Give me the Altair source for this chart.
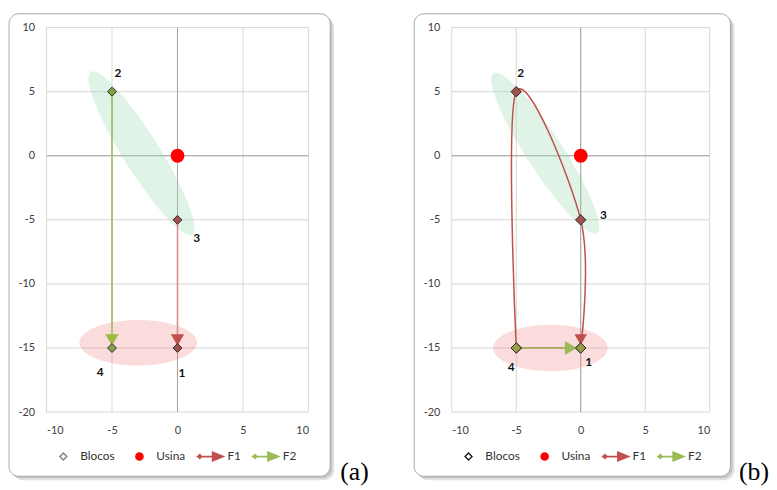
import altair as alt
import pandas as pd

# ---------------- data ----------------
x_ticks = [-10, -5, 0, 5, 10]
y_ticks = [-20, -15, -10, -5, 0, 5, 10]

bloco_ids = ["1", "2", "3", "4"]
bloco_x = [0, -5, 0, -5]
bloco_y = [-15, 5, -5, -15]

usina_x = [0]
usina_y = [0]

route_f1_a = ["3", "1"]
route_f2_a = ["2", "4"]
route_f1_b = ["4", "2", "3", "1"]
route_f2_b = ["4", "1"]

zone_green_x = [-2.75]
zone_green_y = [0.2]
zone_red_a_x = [-3.0]
zone_red_a_y = [-14.6]
zone_red_b_x = [-2.35]
zone_red_b_y = [-15.0]

legend_series = ["Blocos", "Usina", "F1", "F2"]

# ---------------- helpers ----------------
FONT = "Lato"
pos = {i: (x, y) for i, x, y in zip(bloco_ids, bloco_x, bloco_y)}


def route_df(route):
    return pd.DataFrame({
        "i": list(range(len(route))),
        "id": route,
        "x": [pos[r][0] for r in route],
        "y": [pos[r][1] for r in route],
    })


def ellipse_path(rx, ry):
    k = 0.5523
    f = lambda v: f"{v:.4f}"
    return (f"M{f(rx)},0 C{f(rx)},{f(ry*k)} {f(rx*k)},{f(ry)} 0,{f(ry)} "
            f"C{f(-rx*k)},{f(ry)} {f(-rx)},{f(ry*k)} {f(-rx)},0 "
            f"C{f(-rx)},{f(-ry*k)} {f(-rx*k)},{f(-ry)} 0,{f(-ry)} "
            f"C{f(rx*k)},{f(-ry)} {f(rx)},{f(-ry*k)} {f(rx)},0 Z")


HOLLOW_DIAMOND = "M0,-0.3L0.3,0L0,0.3L-0.3,0Z M0,-0.17L-0.17,0L0,0.17L0.17,0Z"
LEG_CIRCLE = ellipse_path(0.29, 0.29)
LEG_ARROW = ("M-0.95,-0.06L0.15,-0.06L0.15,0.06L-0.95,0.06Z "
             "M-0.73,-0.2L-0.53,0L-0.73,0.2L-0.93,0Z "
             "M0.08,-0.37L1,0L0.08,0.37Z")

RED = "#c0504d"
GREEN = "#9bbb59"


def make_panel(cfg):
    W, H = cfg["width"], 389
    R = cfg["frame_right"]
    xs = alt.Scale(domain=[-10, 10], nice=False, zero=False)
    ys = alt.Scale(domain=[-20, 10], nice=False, zero=False)
    xaxis = alt.Axis(values=x_ticks, grid=False, domain=False, ticks=False, zindex=1,
                     labelPadding=13, labelFont=FONT, labelFontSize=11,
                     labelColor="#404040", title=None, labelExpr="datum.value + ''")
    yaxis = alt.Axis(values=y_ticks, grid=False, domain=False, ticks=False, zindex=1,
                     labelPadding=12, labelFont=FONT, labelFontSize=11,
                     labelColor="#404040", title=None, labelExpr="datum.value + ''")

    def X(f):
        return alt.X(f, type="quantitative", scale=xs, axis=xaxis)

    def Y(f):
        return alt.Y(f, type="quantitative", scale=ys, axis=yaxis)

    one = pd.DataFrame({"k": [0]})
    layers = []

    # frame + shadow
    layers.append(alt.Chart(one).mark_rect(cornerRadius=10, fill="#e2e2e2").encode(
        x=alt.value(-34), x2=alt.value(R + 4), y=alt.value(-10), y2=alt.value(458)))
    layers.append(alt.Chart(one).mark_rect(cornerRadius=10, fill="#c4c4c4").encode(
        x=alt.value(-36), x2=alt.value(R + 2), y=alt.value(-12), y2=alt.value(456)))
    layers.append(alt.Chart(one).mark_rect(cornerRadius=10, fill="white", stroke="#a8a8a8",
                                           strokeWidth=1).encode(
        x=alt.value(-38), x2=alt.value(R), y=alt.value(-14), y2=alt.value(454)))

    # grid
    layers.append(alt.Chart(pd.DataFrame({"v": x_ticks})).mark_rule(
        color="#d9dbc9", strokeWidth=1).encode(
        x=X("v"), y=alt.datum(-20), y2=alt.datum(10)))
    layers.append(alt.Chart(pd.DataFrame({"v": y_ticks})).mark_rule(
        color="#d6d6d6", strokeWidth=1).encode(
        y=Y("v"), x=alt.datum(-10), x2=alt.datum(10)))
    # zero axes
    layers.append(alt.Chart(one).mark_rule(color="#a3a3a3", strokeWidth=1).encode(
        x=alt.datum(0), y=alt.datum(-20), y2=alt.datum(10)))
    layers.append(alt.Chart(one).mark_rule(color="#a3a3a3", strokeWidth=1).encode(
        y=alt.datum(0), x=alt.datum(-10), x2=alt.datum(10)))

    # zones (ellipses)
    g = cfg["green"]
    layers.append(alt.Chart(pd.DataFrame({"x": zone_green_x, "y": zone_green_y})).mark_point(
        shape=ellipse_path(1, g["ratio"]), size=g["size"], angle=g["angle"], filled=True,
        color="#9fdcb5", opacity=0.33, strokeWidth=0).encode(x=X("x"), y=Y("y")))
    r = cfg["red"]
    layers.append(alt.Chart(pd.DataFrame({"x": r["x"], "y": r["y"]})).mark_point(
        shape=ellipse_path(1, r["ratio"]), size=r["size"], filled=True,
        color="#f08a8a", opacity=0.3, strokeWidth=0).encode(x=X("x"), y=Y("y")))

    # routes
    f1 = route_df(cfg["f1"])
    f2 = route_df(cfg["f2"])
    layers.append(alt.Chart(f1).mark_line(color=cfg["f1_line"], strokeWidth=1.5,
                                          interpolate=cfg["interp"]).encode(
        x=X("x"), y=Y("y"), order=alt.Order("i:Q")))
    layers.append(alt.Chart(f2).mark_line(color=cfg["f2_line"], strokeWidth=1.8).encode(
        x=X("x"), y=Y("y"), order=alt.Order("i:Q")))

    # arrowheads at route ends
    for df, spec in ((f1, cfg["f1_arrow"]), (f2, cfg["f2_arrow"])):
        end = df.iloc[[-1]]
        layers.append(alt.Chart(end).mark_point(
            shape=spec["shape"], size=spec["size"], filled=True, opacity=1,
            color=spec["color"], xOffset=spec.get("dx", 0), yOffset=spec.get("dy", 0),
            strokeWidth=0).encode(x=X("x"), y=Y("y")))

    # markers
    for df, col in ((f1, cfg["f1_marker"]), (f2, cfg["f2_marker"])):
        layers.append(alt.Chart(df).mark_point(
            shape="diamond", size=cfg["msize"], filled=True, opacity=1, color=col,
            stroke="#2b2b2b", strokeWidth=1).encode(x=X("x"), y=Y("y")))

    # usina
    layers.append(alt.Chart(pd.DataFrame({"x": usina_x, "y": usina_y})).mark_point(
        shape="circle", size=196, filled=True, opacity=1, color="#ff0000").encode(
        x=X("x"), y=Y("y")))

    # block labels
    blocks = pd.DataFrame({"id": bloco_ids, "x": bloco_x, "y": bloco_y})
    for bid, (dx, dy) in cfg["label_off"].items():
        layers.append(alt.Chart(blocks).transform_filter(alt.datum.id == bid).mark_text(
            dx=dx, dy=dy, font=FONT, fontWeight="bold", fontSize=12, color="#111111",
            align="center", baseline="middle").encode(
            x=X("x"), y=Y("y"), text="id:N"))

    # legend (entries from the scale domain)
    leg_scale_c = alt.Scale(domain=legend_series,
                            range=[cfg["blocos_color"], "#ff0000", RED, GREEN])
    leg_scale_s = alt.Scale(domain=legend_series,
                            range=[HOLLOW_DIAMOND, LEG_CIRCLE, LEG_ARROW, LEG_ARROW])
    layers.append(alt.Chart(pd.DataFrame({"serie": legend_series})).transform_filter(
        "false").mark_point(filled=True, opacity=1).encode(
        color=alt.Color("serie:N", scale=leg_scale_c, legend=alt.Legend(
            orient="none", legendX=2, legendY=419, direction="horizontal", title=None,
            symbolSize=900, symbolStrokeWidth=0, symbolOpacity=1, labelFont=FONT,
            labelFontSize=12, labelColor="#333333", labelOffset=2, columnPadding=10,
            padding=0)),
        shape=alt.Shape("serie:N", scale=leg_scale_s)))

    # panel tag
    layers.append(alt.Chart(one).mark_text(
        text=cfg["tag"], align="right", baseline="alphabetic", font="Liberation Serif",
        fontSize=26, color="#000000").encode(x=alt.value(cfg["tag_x"]), y=alt.value(458)))

    return alt.layer(*layers).properties(width=W, height=H)


panel_a = make_panel({
    "width": 265, "frame_right": 287, "tag": "(a)", "tag_x": 326,
    "green": {"ratio": 0.19, "size": 194 ** 2, "angle": 58},
    "red": {"x": zone_red_a_x, "y": zone_red_a_y, "ratio": 0.387, "size": 119 ** 2},
    "f1": route_f1_a, "f2": route_f2_a, "interp": "linear",
    "f1_line": "#d48a88", "f2_line": "#a4c26a",
    "f1_arrow": {"shape": "triangle-down", "size": 180, "color": RED, "dy": -8},
    "f2_arrow": {"shape": "triangle-down", "size": 180, "color": "#a0b846", "dy": -8},
    "f1_marker": "#a3504a", "f2_marker": "#86a246", "msize": 81,
    "label_off": {"1": (4.5, 25.5), "2": (6, -19), "3": (19.5, 18), "4": (-12, 24.5)},
    "blocos_color": "#808080",
})

panel_b = make_panel({
    "width": 261, "frame_right": 282, "tag": "(b)", "tag_x": 321,
    "green": {"ratio": 0.19, "size": 193 ** 2, "angle": 57},
    "red": {"x": zone_red_b_x, "y": zone_red_b_y, "ratio": 0.405, "size": 116 ** 2},
    "f1": route_f1_b, "f2": route_f2_b, "interp": "cardinal",
    "f1_line": RED, "f2_line": "#a8a85c",
    "f1_arrow": {"shape": "triangle-down", "size": 160, "color": RED, "dy": -8.5},
    "f2_arrow": {"shape": "triangle-right", "size": 196, "color": GREEN, "dx": -10},
    "f1_marker": "#a0524a", "f2_marker": "#9a9e48", "msize": 110,
    "label_off": {"1": (8, 14), "2": (4.5, -19), "3": (23, -5), "4": (-5, 19)},
    "blocos_color": "#1a1a1a",
})

chart = alt.hconcat(panel_a, panel_b, spacing=45).resolve_scale(
    x="independent", y="independent", color="independent", shape="independent"
).resolve_legend(color="independent", shape="independent").properties(
    padding={"left": 0, "top": 2, "right": 0, "bottom": 0}
).configure_view(strokeWidth=0)

chart.save("out.html", embed_options={"renderer": "svg", "actions": False})
